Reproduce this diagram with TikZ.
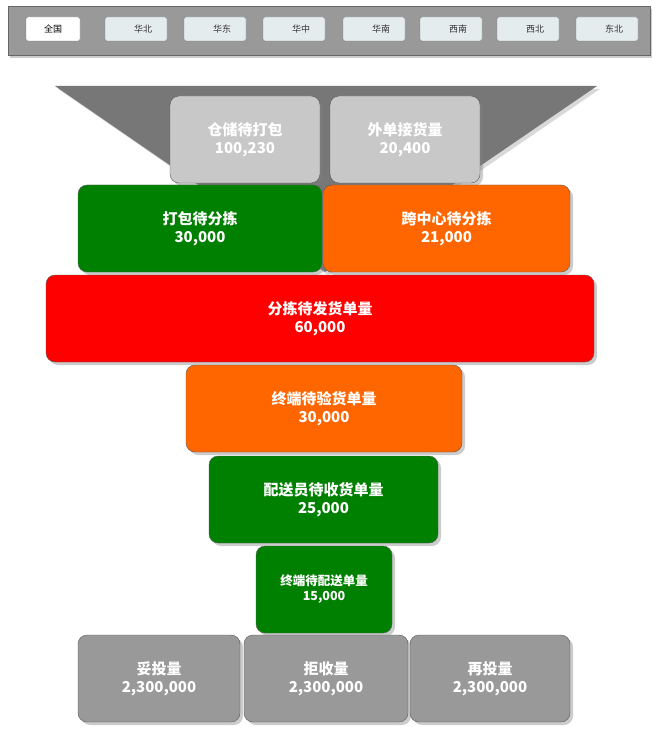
\documentclass[tikz,border=0pt]{standalone}
\usepackage{fontspec}
\setmainfont{Noto Sans CJK SC}
\usetikzlibrary{shadows}
\definecolor{barGray}{HTML}{999999}
\definecolor{funnelGray}{HTML}{777777}
\definecolor{lightBox}{HTML}{C8C8C8}
\definecolor{btnFill}{HTML}{E4ECEE}
\definecolor{okGreen}{HTML}{008000}
\definecolor{warnOrange}{HTML}{FF6600}
\tikzset{
  btn/.style={draw=gray, rounded corners=2pt, fill=btnFill, font=\fontsize{9}{10}\selectfont},
  stage/.style={draw=gray!70!black, rounded corners=9pt, text=white, align=center,
    font=\bfseries\fontsize{15}{17}\selectfont, drop shadow={shadow xshift=3pt, shadow yshift=-3pt, opacity=0.4}},
}
\newcommand{\stagebox}[5]{% name, corner1, corner2, fill, text
  \filldraw[stage, fill=#4] #2 rectangle #3;
  \path #2 -- #3 node[midway, text=white, align=center, font=\bfseries\fontsize{15}{18}\selectfont] (#1) {#5};}
\begin{document}
\begin{tikzpicture}[x=1pt, y=-1pt]
\useasboundingbox (0,0) rectangle (657,751);
% region bar
\filldraw[draw=gray!80!black, fill=barGray, drop shadow={shadow xshift=2pt, shadow yshift=-3pt, opacity=0.4}] (8,6) rectangle (650,55);
\filldraw[btn, fill=white] (26,17) rectangle (80,41);
\node[font=\fontsize{9}{10}\selectfont] (qg) at (53,29) {全国};
\foreach \x/\t [count=\i] in {105/华北,184/华东,263/华中,343/华南,420/西南,497/西北,576/东北} {
  \filldraw[btn] (\x,17) rectangle ++(62,24);
  \node[font=\fontsize{9}{10}\selectfont, text=black!80] (r\i) at (\x+38,29) {\t};
}
% funnel
\fill[funnelGray, drop shadow={shadow xshift=3pt, shadow yshift=-3pt, opacity=0.3}] (55,86) -- (597,86) -- (325,272) -- cycle;
\stagebox{cc}{(170,96)}{(320,183)}{lightBox}{仓储待打包\\100,230}
\stagebox{wd}{(330,96)}{(480,183)}{lightBox}{外单接货量\\20,400}
\stagebox{db}{(78,185)}{(322,272)}{okGreen}{打包待分拣\\30,000}
\stagebox{kz}{(323,185)}{(570,272)}{warnOrange}{跨中心待分拣\\21,000}
\stagebox{fj}{(46,275)}{(594,362)}{red}{分拣待发货单量\\60,000}
\stagebox{zy}{(186,365)}{(462,452)}{warnOrange}{终端待验货单量\\30,000}
\stagebox{ps}{(209,456)}{(438,543)}{okGreen}{配送员待收货单量\\25,000}
\filldraw[stage, fill=okGreen] (256,546) rectangle (392,633);
\node[text=white, align=center, font=\bfseries\fontsize{12.5}{15}\selectfont] (zp) at (324,589) {终端待配送单量\\15,000};
\stagebox{tt}{(78,635)}{(240,722)}{barGray}{妥投量\\2,300,000}
\stagebox{js}{(244,635)}{(408,722)}{barGray}{拒收量\\2,300,000}
\stagebox{zt}{(410,635)}{(570,722)}{barGray}{再投量\\2,300,000}
\end{tikzpicture}
\end{document}
